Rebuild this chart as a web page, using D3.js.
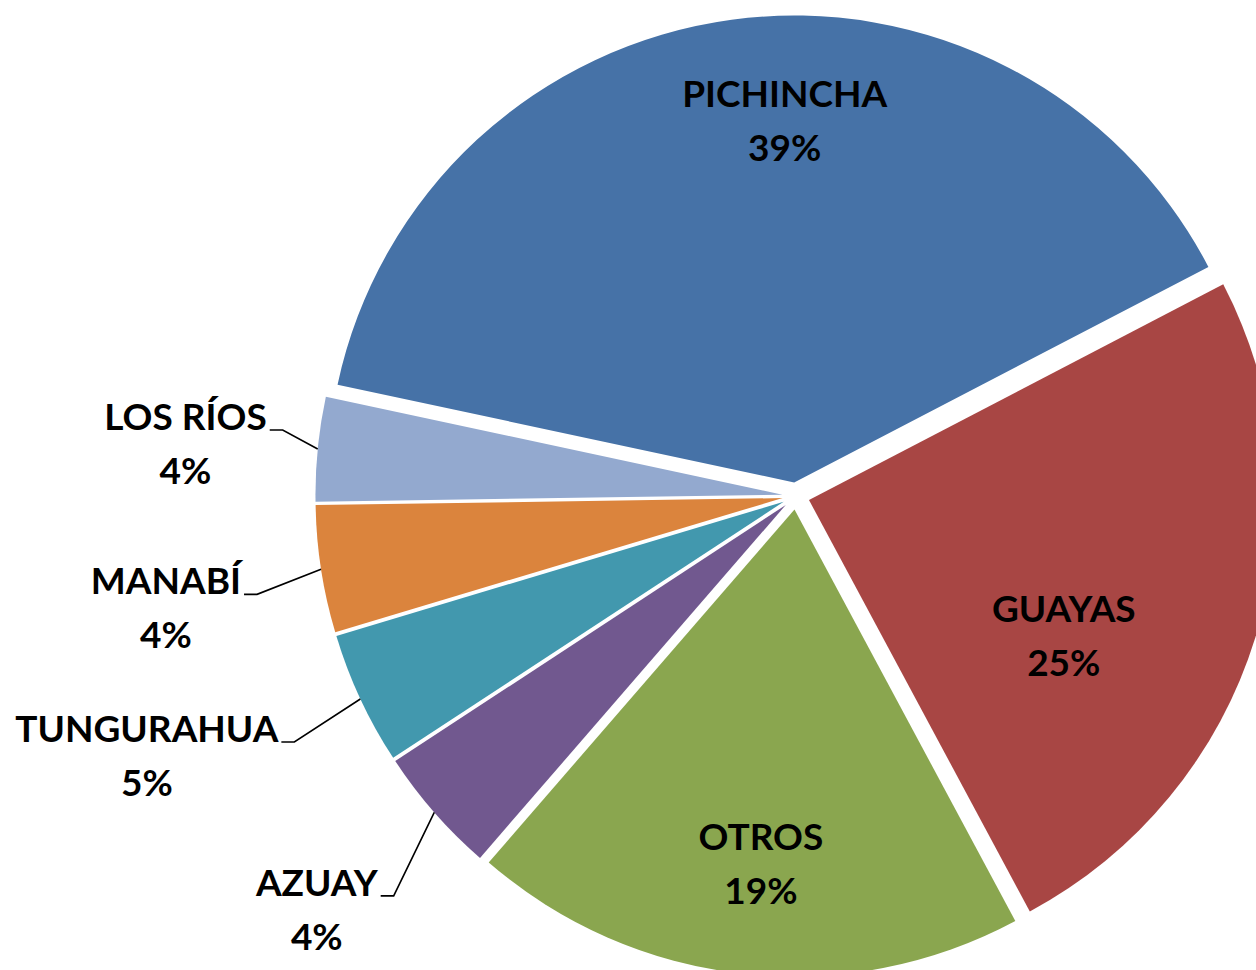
<!DOCTYPE html>
<html lang="es">
<head>
<meta charset="UTF-8">
<title>Distribución por provincia</title>
<script src="https://cdn.jsdelivr.net/npm/d3@7"></script>
<style>
	body {
		margin: 0;
		background-color: #ffffff;
	}
	.label {
		font-family: Lato, "Open Sans", sans-serif;
		font-weight: bold;
		font-size: 37px;
		fill: #000000;
	}
	.leader {
		fill: none;
		stroke: #000000;
		stroke-width: 1.6px;
	}
</style>
</head>
<body>
<script>
	// data, clockwise from the first slice
	var provincias = ['PICHINCHA', 'GUAYAS', 'OTROS', 'AZUAY', 'TUNGURAHUA', 'MANABÍ', 'LOS RÍOS'];
	var porcentajes = [39.0, 24.8, 19.2, 4.4, 4.6, 4.4, 3.6];
	var colores = ['#4672a7', '#a84644', '#8aa64f', '#71588f', '#4298ae', '#db843d', '#93a9cf'];

	// label placement: inside labels use polar offset, outside labels an elbow offset from the arc point
	var etiquetas = {
		'PICHINCHA':  {inside: true, dAngle: 6.2, r: 0.776},
		'GUAYAS':     {inside: true, dAngle: 10.7, r: 0.617},
		'OTROS':      {inside: true, dAngle: -0.9, r: 0.76},
		'AZUAY':      {inside: false, dx: -40.6, dy: 83.4},
		'TUNGURAHUA': {inside: false, dx: -66, dy: 43},
		'MANABÍ':     {inside: false, dx: -64, dy: 25},
		'LOS RÍOS':   {inside: false, dx: -35, dy: -19}
	};

	var width = 1256, height = 970;
	var cx = 796, cy = 496;
	var radius = 467;
	var explode = 13.6;

	var svg = d3.select('body').append('svg')
		.attr('width', width)
		.attr('height', height)
		.append('g')
		.attr('transform', 'translate(' + cx + ',' + cy + ')');

	var data = provincias.map(function (p, i) {
		return {name: p, value: porcentajes[i], color: colores[i]};
	});
	var total = d3.sum(porcentajes);

	var start = -77.9 * Math.PI / 180;
	var pie = d3.pie()
		.sort(null)
		.value(function (d) { return d.value; })
		.startAngle(start)
		.endAngle(start + 2 * Math.PI);

	var arc = d3.arc().innerRadius(0).outerRadius(radius);

	function polar(a, r) {
		return [Math.sin(a) * r, -Math.cos(a) * r];
	}

	var arcs = pie(data);
	arcs.forEach(function (d) {
		d.mid = (d.startAngle + d.endAngle) / 2;
		d.offset = polar(d.mid, explode);
	});

	var slices = svg.selectAll('.slice')
		.data(arcs)
		.enter()
		.append('g')
		.attr('class', 'slice')
		.attr('transform', function (d) {
			return 'translate(' + d.offset[0] + ',' + d.offset[1] + ')';
		});

	slices.append('path')
		.attr('d', arc)
		.style('fill', function (d) { return d.data.color; });

	var lineGap = 54;

	arcs.forEach(function (d) {
		var cfg = etiquetas[d.data.name];
		var pct = Math.round(d.data.value / total * 100) + '%';

		if (cfg.inside) {
			var p = polar(d.mid + cfg.dAngle * Math.PI / 180, cfg.r * radius);
			var x = d.offset[0] + p[0], y = d.offset[1] + p[1];
			var t = svg.append('text')
				.attr('class', 'label')
				.attr('text-anchor', 'middle');
			t.append('tspan').attr('x', x).attr('y', y - 13).text(d.data.name);
			t.append('tspan').attr('x', x).attr('y', y - 13 + lineGap).text(pct);
		} else {
			var a = polar(d.mid, radius);
			var ax = d.offset[0] + a[0], ay = d.offset[1] + a[1];
			var ex = ax + cfg.dx, ey = ay + cfg.dy;
			var hx = ex - 13;

			svg.append('polyline')
				.attr('class', 'leader')
				.attr('points', [[hx, ey], [ex, ey], [ax, ay]].join(' '));

			var t2 = svg.append('text')
				.attr('class', 'label')
				.attr('text-anchor', 'middle');
			var first = t2.append('tspan').attr('y', ey).text(d.data.name);
			var w = first.node().getComputedTextLength();
			var tx = hx - 3 - w / 2;
			first.attr('x', tx);
			t2.append('tspan').attr('x', tx).attr('y', ey + lineGap).text(pct);
		}
	});
</script>
</body>
</html>
